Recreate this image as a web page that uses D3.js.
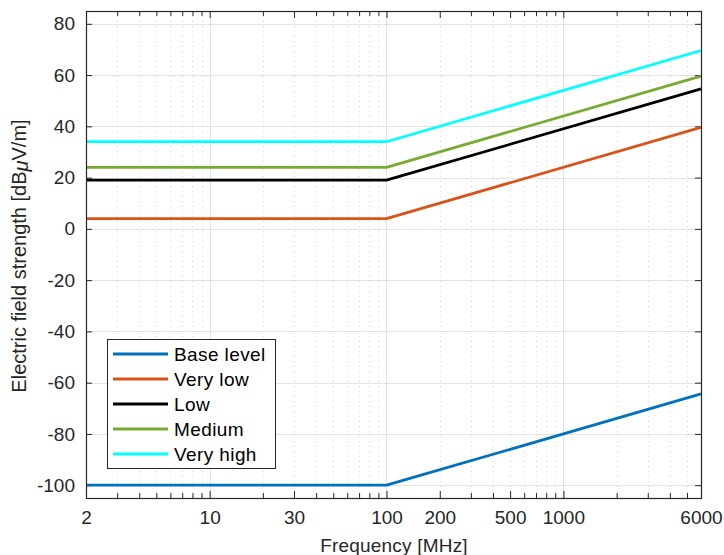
<!DOCTYPE html>
<html><head><meta charset="utf-8">
<script src="https://cdn.jsdelivr.net/npm/d3@7"></script>
<style>body{margin:0;background:#fff}svg{display:block}text{font-family:"Liberation Sans",Arial,sans-serif}</style>
</head><body>
<script>
const freqs = [2, 100, 6000];
const seriesNames = ["Base level", "Very low", "Low", "Medium", "Very high"];
const baseLevel = [-100, -100, -64.4];
const veryLow = [4, 4, 39.6];
const low = [19, 19, 54.6];
const medium = [24, 24, 59.6];
const veryHigh = [34, 34, 69.6];
const colors = ["#0072BD", "#D95319", "#000000", "#77AC30", "#00FFFF"];
const xTickLabels = [2, 10, 30, 100, 200, 500, 1000, 6000];
const yTicks = [-100, -80, -60, -40, -20, 0, 20, 40, 60, 80];
const xMajorGrid = [10, 100, 1000];
const xMinor = [3,4,5,6,7,8,9,20,30,40,50,60,70,80,90,200,300,400,500,600,700,800,900,2000,3000,4000,5000];

const W = 724, H = 555;
const L = 86, R = 701, T = 11, B = 498;
const FS = 19;
const svg = d3.select("body").append("svg").attr("width", W).attr("height", H);
const x = d3.scaleLog().domain([2, 6000]).range([L, R]);
const y = d3.scaleLinear().domain([-105, 85]).range([B, T]);

const g = svg.append("g");
// grid
g.selectAll(".ygrid").data(yTicks).enter().append("line")
  .attr("x1", L).attr("x2", R).attr("y1", d => Math.round(y(d)) + 0.5).attr("y2", d => Math.round(y(d)) + 0.5)
  .attr("stroke", "#e3e3e3").attr("stroke-width", 1);
g.selectAll(".xminor").data(xMinor.filter(d => !xMajorGrid.includes(d))).enter().append("line")
  .attr("x1", d => Math.round(x(d)) + 0.5).attr("x2", d => Math.round(x(d)) + 0.5).attr("y1", T).attr("y2", B)
  .attr("stroke", "#d8d8d8").attr("stroke-width", 1).attr("stroke-dasharray", "1,4");
g.selectAll(".xgrid").data(xMajorGrid).enter().append("line")
  .attr("x1", d => Math.round(x(d)) + 0.5).attr("x2", d => Math.round(x(d)) + 0.5).attr("y1", T).attr("y2", B)
  .attr("stroke", "#e3e3e3").attr("stroke-width", 1);

// axes using d3 axis
const allXTicks = [2].concat(xMinor, [10,100,1000,6000]).sort((a,b)=>a-b);
const xAxisB = d3.axisBottom(x).tickValues(allXTicks).tickSizeInner(-5).tickSizeOuter(0)
  .tickFormat(d => xTickLabels.includes(d) ? String(d) : "").tickPadding(13);
const xAxisT = d3.axisTop(x).tickValues(allXTicks).tickSizeInner(-5).tickSizeOuter(0).tickFormat("");
const yAxisL = d3.axisLeft(y).tickValues(yTicks).tickSizeInner(-6).tickSizeOuter(0).tickPadding(11)
  .tickFormat(d => String(d));
const yAxisR = d3.axisRight(y).tickValues(yTicks).tickSizeInner(-6).tickSizeOuter(0).tickFormat("");

function style(sel){
  sel.select(".domain").remove();
  sel.selectAll("line").attr("stroke", "#262626");
  sel.selectAll("text").attr("font-size", FS).attr("fill", "#262626").attr("font-family", '"Liberation Sans",Arial,sans-serif');
}
svg.append("g").attr("transform", `translate(0,${B})`).call(xAxisB).call(style)
  .selectAll(".tick line").attr("y2", d => xTickLabels.includes(d) || xMajorGrid.includes(d) ? -7 : -5);
svg.append("g").attr("transform", `translate(0,${T})`).call(xAxisT).call(style)
  .selectAll(".tick line").attr("y2", d => xTickLabels.includes(d) || xMajorGrid.includes(d) ? 7 : 5);
svg.append("g").attr("transform", `translate(${L},0)`).call(yAxisL).call(style);
svg.append("g").attr("transform", `translate(${R},0)`).call(yAxisR).call(style);

// lines
const data = [baseLevel, veryLow, low, medium, veryHigh];
const line = d3.line().x((d, i) => x(freqs[i])).y(d => y(d));
const plot = svg.append("g");
data.forEach((vals, i) => {
  plot.append("path").datum(vals).attr("d", line).attr("fill", "none")
    .attr("stroke", colors[i]).attr("stroke-width", 2.8).attr("stroke-linejoin", "round");
});

// box
svg.append("rect").attr("x", L + 0.5).attr("y", T + 0.5).attr("width", R - L).attr("height", B - T)
  .attr("fill", "none").attr("stroke", "#262626").attr("stroke-width", 1.2);

// legend
const lg = svg.append("g").attr("transform", "translate(107,339)");
lg.append("rect").attr("x", 0.5).attr("y", 0.5).attr("width", 168).attr("height", 129)
  .attr("fill", "#fff").attr("stroke", "#262626").attr("stroke-width", 1);
seriesNames.forEach((n, i) => {
  const yy = 15 + i * 25;
  lg.append("line").attr("x1", 6).attr("x2", 61).attr("y1", yy).attr("y2", yy)
    .attr("stroke", colors[i]).attr("stroke-width", 2.8);
  lg.append("text").attr("x", 67).attr("y", yy + 7).attr("font-size", FS).attr("letter-spacing", 0.4)
    .attr("fill", "#000").text(n);
});

// axis labels
svg.append("text").attr("x", 394).attr("y", 552).attr("text-anchor", "middle")
  .attr("font-size", FS).attr("letter-spacing", 0.2).attr("fill", "#262626").text("Frequency [MHz]");
const yl = svg.append("text").attr("transform", `translate(26,256) rotate(-90)`)
  .attr("text-anchor", "middle").attr("font-size", 20).attr("fill", "#262626");
yl.append("tspan").text("Electric field strength [dB");
yl.append("tspan").attr("font-style", "italic").attr("dy", 2).text("\u03BC");
yl.append("tspan").attr("dy", -2).text("V/m]");
</script>
</body></html>
